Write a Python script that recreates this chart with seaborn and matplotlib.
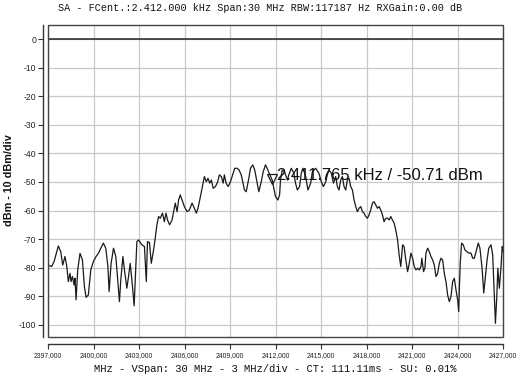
import numpy as np
import pandas as pd
import matplotlib
matplotlib.use("Agg")
import matplotlib.pyplot as plt
import seaborn as sns
from matplotlib.patches import Rectangle

freq = [2397.00, 2397.24, 2397.40, 2397.68, 2397.84, 2397.97, 2398.12, 2398.24, 2398.34, 2398.45,
        2398.52, 2398.61, 2398.72, 2398.78, 2398.85, 2398.96, 2399.11, 2399.27, 2399.40, 2399.51,
        2399.66, 2399.82, 2399.99, 2400.17, 2400.32, 2400.48, 2400.65, 2400.81, 2400.95, 2401.03,
        2401.16, 2401.32, 2401.47, 2401.58, 2401.71, 2401.80, 2401.94, 2402.04, 2402.20, 2402.31,
        2402.42, 2402.57, 2402.68, 2402.86, 2402.97, 2403.19, 2403.36, 2403.48, 2403.56, 2403.69,
        2403.81, 2403.96, 2404.07, 2404.18, 2404.29, 2404.40, 2404.55, 2404.67, 2404.78, 2404.88,
        2405.02, 2405.18, 2405.28, 2405.39, 2405.51, 2405.61, 2405.72, 2405.84, 2405.99, 2406.17,
        2406.32, 2406.50, 2406.65, 2406.78, 2406.89, 2407.05, 2407.20, 2407.31, 2407.44, 2407.55,
        2407.66, 2407.77, 2407.89, 2408.04, 2408.19, 2408.30, 2408.43, 2408.55, 2408.63, 2408.74,
        2408.88, 2409.03, 2409.21, 2409.31, 2409.47, 2409.60, 2409.74, 2409.84, 2409.95, 2410.07,
        2410.24, 2410.35, 2410.50, 2410.63, 2410.79, 2410.90, 2411.06, 2411.19, 2411.34, 2411.45,
        2411.63, 2411.78, 2412.00, 2412.16, 2412.27, 2412.33, 2412.44, 2412.60, 2412.78, 2412.88,
        2413.04, 2413.21, 2413.32, 2413.44, 2413.59, 2413.70, 2413.81, 2413.99, 2414.14, 2414.32,
        2414.43, 2414.54, 2414.65, 2414.86, 2415.02, 2415.16, 2415.31, 2415.42, 2415.53, 2415.68,
        2415.82, 2415.97, 2416.08, 2416.19, 2416.30, 2416.41, 2416.52, 2416.63, 2416.74, 2416.85,
        2416.96, 2417.07, 2417.18, 2417.29, 2417.40, 2417.51, 2417.62, 2417.73, 2417.84, 2417.95,
        2418.06, 2418.17, 2418.28, 2418.39, 2418.50, 2418.61, 2418.72, 2418.83, 2418.94, 2419.05,
        2419.16, 2419.27, 2419.39, 2419.49, 2419.60, 2419.71, 2419.82, 2419.93, 2420.05, 2420.15,
        2420.26, 2420.38, 2420.48, 2420.59, 2420.71, 2420.82, 2420.93, 2421.04, 2421.15, 2421.26,
        2421.37, 2421.48, 2421.59, 2421.65, 2421.76, 2421.85, 2421.92, 2422.03, 2422.14, 2422.25,
        2422.36, 2422.47, 2422.58, 2422.69, 2422.80, 2422.91, 2423.02, 2423.13, 2423.24, 2423.35,
        2423.46, 2423.57, 2423.68, 2423.79, 2423.90, 2424.01, 2424.08, 2424.12, 2424.18, 2424.27,
        2424.38, 2424.49, 2424.62, 2424.74, 2424.89, 2425.00, 2425.11, 2425.22, 2425.37, 2425.48,
        2425.62, 2425.73, 2425.84, 2425.95, 2426.06, 2426.21, 2426.32, 2426.43, 2426.50, 2426.59,
        2426.66, 2426.72, 2426.76, 2426.87, 2426.95, 2427.00]

dbm = [-79.1, -79.6, -77.9, -72.4, -74.4, -79.1, -76.1, -79.6, -84.9, -82.0,
       -84.9, -83.1, -86.1, -83.7, -91.3, -80.8, -75.0, -77.3, -86.6, -90.4,
       -89.6, -80.8, -77.9, -76.1, -75.0, -73.2, -71.4, -73.2, -79.6, -88.4,
       -78.5, -73.2, -76.1, -83.1, -91.9, -84.3, -76.1, -80.8, -87.2, -83.1,
       -78.5, -86.6, -93.4, -70.9, -70.3, -72.0, -72.6, -84.9, -70.9, -71.2,
       -78.5, -73.8, -69.7, -65.0, -62.1, -62.7, -60.9, -63.9, -60.9, -63.3,
       -65.0, -63.3, -60.4, -57.4, -60.4, -56.3, -54.5, -56.3, -58.6, -60.4,
       -59.8, -57.4, -59.2, -60.9, -59.2, -55.1, -51.0, -48.1, -49.9, -48.7,
       -50.4, -49.3, -52.2, -51.6, -49.9, -47.5, -48.1, -50.4, -47.5, -50.4,
       -51.6, -49.9, -46.9, -45.2, -45.2, -45.8, -47.5, -49.9, -52.8, -53.4,
       -48.7, -45.2, -44.0, -45.8, -50.4, -53.4, -49.9, -46.4, -44.0, -45.2,
       -47.5, -49.3, -55.1, -56.3, -54.5, -49.3, -45.8, -46.5, -49.3, -47.5,
       -45.2, -46.9, -50.4, -52.8, -51.6, -46.9, -45.2, -48.1, -52.8, -50.4,
       -46.4, -45.8, -45.2, -46.9, -49.9, -51.6, -49.9, -47.5, -45.8, -46.9,
       -50.4, -48.1, -51.6, -52.8, -49.3, -48.1, -51.6, -52.8, -49.3, -48.7,
       -51.6, -52.8, -56.3, -58.6, -60.4, -59.2, -58.6, -60.4, -60.9, -62.1,
       -62.7, -61.5, -59.8, -57.4, -56.9, -58.0, -59.2, -58.6, -59.8, -61.5,
       -63.9, -62.7, -62.7, -63.3, -62.1, -63.3, -64.4, -66.8, -70.3, -75.5,
       -79.6, -72.0, -72.6, -77.3, -81.4, -78.5, -74.9, -76.7, -79.6, -80.8,
       -80.2, -80.8, -79.6, -76.7, -81.4, -80.2, -74.9, -73.2, -74.4, -76.1,
       -77.3, -79.1, -83.1, -82.0, -78.5, -76.7, -77.3, -82.0, -84.9, -89.6,
       -91.9, -90.2, -84.9, -83.7, -87.8, -91.3, -95.4, -87.8, -78.5, -71.4,
       -72.0, -73.8, -74.4, -74.9, -74.9, -76.7, -76.7, -74.4, -71.4, -73.2,
       -80.2, -88.9, -83.1, -77.3, -73.2, -72.0, -75.5, -90.2, -99.5, -90.2,
       -80.2, -84.3, -87.2, -79.6, -72.6, -74.5]

x_ticks = [2397, 2400, 2403, 2406, 2409, 2412, 2415, 2418, 2421, 2424, 2427]
x_tick_labels = ["2397,000", "2400,000", "2403,000", "2406,000", "2409,000", "2412,000",
                 "2415,000", "2418,000", "2421,000", "2424,000", "2427,000"]
y_ticks = [0, -10, -20, -30, -40, -50, -60, -70, -80, -90, -100]
y_tick_labels = ["0", "-10", "-20", "-30", "-40", "-50", "-60", "-70", "-80", "-90", "-100"]

marker_freq = 2411.765
marker_dbm = -50.71
marker_text = "2.411.765 kHz / -50.71 dBm"
title_text = "SA - FCent.:2.412.000 kHz Span:30 MHz RBW:117187 Hz RXGain:0.00 dB"
xlabel_text = "MHz - VSpan: 30 MHz - 3 MHz/div - CT: 111.11ms - SU: 0.01%"
ylabel_text = "dBm - 10 dBm/div"

sns.set_style("white")
plt.rcParams["font.family"] = ["Liberation Sans", "DejaVu Sans"]

W, H = 521, 379
fig = plt.figure(figsize=(W / 100, H / 100), dpi=100)
L, R, T, B = 48, 503, 25, 337
ax = fig.add_axes([L / W, 1 - B / H, (R - L) / W, (B - T) / H])

df = pd.DataFrame({"freq": freq, "dbm": dbm})
sns.lineplot(data=df, x="freq", y="dbm", ax=ax, color="#1a1a1a", linewidth=0.9,
             estimator=None, sort=False)

ax.set_xlim(2397, 2427)
ax.set_ylim(-104.3, 5.0)
ax.set_xticks(x_ticks)
ax.set_xticklabels(x_tick_labels)
ax.set_yticks(y_ticks)
ax.set_yticklabels(y_tick_labels)
ax.grid(True, color="#c8c8c8", linewidth=0.9)
ax.axhline(0, color="#222222", linewidth=1.1, zorder=2)
ax.set_xlabel("")
ax.set_ylabel("")

for s in ["top", "right"]:
    ax.spines[s].set_visible(False)
ax.spines["left"].set_position(("outward", 3.6))
ax.spines["bottom"].set_position(("outward", 5.0))
ax.spines["left"].set_color("#333333")
ax.spines["bottom"].set_color("#333333")
ax.spines["left"].set_linewidth(1.0)
ax.spines["bottom"].set_linewidth(1.0)
ax.tick_params(axis="both", which="major", direction="out", length=3.5, width=0.8,
               color="#333333", pad=2, left=True, bottom=True, labelcolor="#222222")
ax.tick_params(axis="x", labelsize=4.9, pad=2.5)
ax.tick_params(axis="y", labelsize=6.2, pad=1.5)

ax.add_patch(Rectangle((0, 0), 1, 1, transform=ax.transAxes, fill=False,
                       edgecolor="#444444", linewidth=1.0, zorder=3, clip_on=False))

ax.plot([marker_freq], [marker_dbm + 1.8], marker="v", markersize=7, markerfacecolor="none",
        markeredgecolor="#1a1a1a", markeredgewidth=0.9, linestyle="none", zorder=4)
ax.text(marker_freq + 0.35, marker_dbm + 3.0, marker_text, fontsize=12, color="#111111",
        ha="left", va="center", zorder=5)

fig.text(0.5, 1 - 8 / H, title_text, fontsize=7.3, family="Liberation Mono",
         ha="center", va="center", color="#111111")
fig.text((L + R) / 2 / W, 1 - 369 / H, xlabel_text, fontsize=7.6, family="Liberation Mono",
         ha="center", va="center", color="#111111")
fig.text(9 / W, 1 - 180 / H, ylabel_text, fontsize=7.8, fontweight="bold",
         rotation=90, ha="center", va="center", color="#111111")

fig.savefig("out.png", dpi=100)
